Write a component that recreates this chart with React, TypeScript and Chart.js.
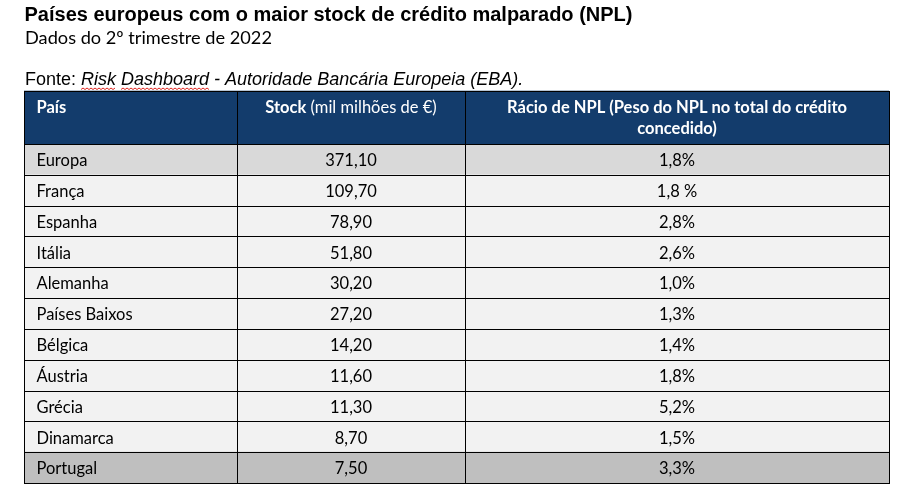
import React, { useEffect, useRef } from "react";
import { Chart, registerables } from "chart.js";

Chart.register(...registerables);

// ---- Data ----
const TITLE = "Países europeus com o maior stock de crédito malparado (NPL)";
const SUBTITLE = "Dados do 2º trimestre de 2022";
const SOURCE_PREFIX = "Fonte: ";
const SOURCE_WORDS_UNDERLINED = ["Risk", "Dashboard"];
const SOURCE_ITALIC = "Risk Dashboard - Autoridade Bancária Europeia (EBA).";

const headerCountry = "País";
const headerStockBold = "Stock";
const headerStockRest = " (mil milhões de €)";
const headerRatioLines = ["Rácio de NPL (Peso do NPL no total do crédito", "concedido)"];

const countries = [
  "Europa",
  "França",
  "Espanha",
  "Itália",
  "Alemanha",
  "Países Baixos",
  "Bélgica",
  "Áustria",
  "Grécia",
  "Dinamarca",
  "Portugal",
];
const stockValues = [371.1, 109.7, 78.9, 51.8, 30.2, 27.2, 14.2, 11.6, 11.3, 8.7, 7.5];
const nplRatioLabels = ["1,8%", "1,8 %", "2,8%", "2,6%", "1,0%", "1,3%", "1,4%", "1,8%", "5,2%", "1,5%", "3,3%"];

// ---- Layout / style ----
const TABLE_UNITS = 865;
const COL_EDGES = [0, 213, 441, 865];
const HEADER_H = 53.3;
const HEADER_BG = "#133C6C";
const ARIAL = "'Liberation Sans', Arial, sans-serif";
const BODY = "Lato, 'Open Sans', sans-serif";
const BODY_SIZE = 16.5;

const fmtStock = (v: number) => v.toFixed(2).replace(".", ",");

const rowColor = (i: number) =>
  i === 0 ? "#D9D9D9" : i === countries.length - 1 ? "#BFBFBF" : "#F2F2F2";

const tablePlugin = {
  id: "tableDraw",
  afterDatasetsDraw(chart: any) {
    const { ctx, chartArea, scales } = chart;
    const x = scales.x;
    const y = scales.y;
    const colPx = COL_EDGES.map((v) => x.getPixelForValue(v));
    const rowH = Math.abs(y.getPixelForValue(1) - y.getPixelForValue(0));
    const top = chartArea.top;
    const headerTop = top - HEADER_H;
    const left = colPx[0];
    const right = colPx[3];

    ctx.save();

    // ---- Titles ----
    ctx.fillStyle = "#000";
    ctx.textAlign = "left";
    ctx.textBaseline = "alphabetic";
    ctx.font = `bold 20px ${ARIAL}`;
    ctx.fillText(TITLE, 24.5, 21);
    ctx.font = `18.2px ${BODY}`;
    ctx.fillText(SUBTITLE, 25, 44);

    ctx.font = `18px ${ARIAL}`;
    ctx.fillText(SOURCE_PREFIX, 25, 85);
    const pw = ctx.measureText(SOURCE_PREFIX).width;
    ctx.font = `italic 18px ${ARIAL}`;
    const sx = 25 + pw;
    ctx.fillText(SOURCE_ITALIC, sx, 85);
    // spell-check style wavy underline
    ctx.strokeStyle = "#E0201A";
    ctx.lineWidth = 1;
    let off = 0;
    SOURCE_WORDS_UNDERLINED.forEach((w) => {
      const idx = SOURCE_ITALIC.indexOf(w, off);
      const x0 = sx + ctx.measureText(SOURCE_ITALIC.slice(0, idx)).width;
      const x1 = x0 + ctx.measureText(w).width;
      off = idx + w.length;
      ctx.beginPath();
      let up = true;
      ctx.moveTo(x0, 89.5);
      for (let xx = x0 + 2; xx <= x1; xx += 2) {
        ctx.lineTo(xx, up ? 88 : 89.5);
        up = !up;
      }
      ctx.stroke();
    });

    // ---- Header ----
    ctx.fillStyle = HEADER_BG;
    ctx.fillRect(left, headerTop, right - left, HEADER_H);
    ctx.fillStyle = "#FFFFFF";
    ctx.font = `bold ${BODY_SIZE}px ${BODY}`;
    ctx.textAlign = "left";
    ctx.fillText(headerCountry, colPx[0] + 12.5, headerTop + 22.3);

    const c2 = (colPx[1] + colPx[2]) / 2;
    const wb = ctx.measureText(headerStockBold).width;
    ctx.font = `${BODY_SIZE}px ${BODY}`;
    const wr = ctx.measureText(headerStockRest).width;
    const s0 = c2 - (wb + wr) / 2;
    ctx.font = `bold ${BODY_SIZE}px ${BODY}`;
    ctx.fillText(headerStockBold, s0, headerTop + 22.3);
    ctx.font = `${BODY_SIZE}px ${BODY}`;
    ctx.fillText(headerStockRest, s0 + wb, headerTop + 22.3);

    const c3 = (colPx[2] + colPx[3]) / 2;
    ctx.font = `bold ${BODY_SIZE}px ${BODY}`;
    ctx.textAlign = "center";
    headerRatioLines.forEach((ln, k) => {
      ctx.fillText(ln, c3, headerTop + 22.3 + k * 21);
    });

    // ---- Cells ----
    ctx.fillStyle = "#000";
    ctx.font = `${BODY_SIZE}px ${BODY}`;
    countries.forEach((c, i) => {
      const cy = y.getPixelForValue(i);
      const base = cy + 6.8;
      ctx.textAlign = "left";
      ctx.fillText(c, colPx[0] + 12.5, base);
      ctx.textAlign = "center";
      ctx.fillText(fmtStock(stockValues[i]), c2, base);
      ctx.fillText(nplRatioLabels[i], c3, base);
    });

    // ---- Grid lines ----
    ctx.fillStyle = "#000";
    const hLine = (yy: number) => ctx.fillRect(left, Math.round(yy), right - left + 1, 1);
    hLine(headerTop);
    hLine(top);
    countries.forEach((_, i) => hLine(y.getPixelForValue(i) + rowH / 2));
    colPx.forEach((px) => ctx.fillRect(Math.round(px), Math.round(headerTop), 1, chartArea.bottom - Math.round(headerTop) + 1));

    ctx.restore();
  },
};

export default function App() {
  const ref = useRef<HTMLCanvasElement | null>(null);
  useEffect(() => {
    if (!ref.current) return;
    const chart = new Chart(ref.current, {
      type: "bar",
      data: {
        labels: countries,
        datasets: [
          {
            data: countries.map(() => [0, TABLE_UNITS]) as any,
            backgroundColor: countries.map((_, i) => rowColor(i)),
            barPercentage: 1,
            categoryPercentage: 1,
            borderWidth: 0,
          },
        ],
      },
      options: {
        indexAxis: "y",
        responsive: false,
        animation: false,
        events: [],
        layout: { padding: { left: 24, right: 17, top: 144, bottom: 10 } },
        plugins: {
          legend: { display: false },
          tooltip: { enabled: false },
          title: { display: false },
        },
        scales: {
          x: { type: "linear", min: 0, max: TABLE_UNITS, display: false },
          y: { type: "category", display: false, offset: true },
        },
      },
      plugins: [tablePlugin],
    });
    return () => chart.destroy();
  }, []);
  return (
    <div style={{ position: "absolute", left: 0, top: 0, width: 906, height: 493, background: "#fff" }}>
      <canvas ref={ref} width={906} height={493} style={{ display: "block" }} />
    </div>
  );
}
